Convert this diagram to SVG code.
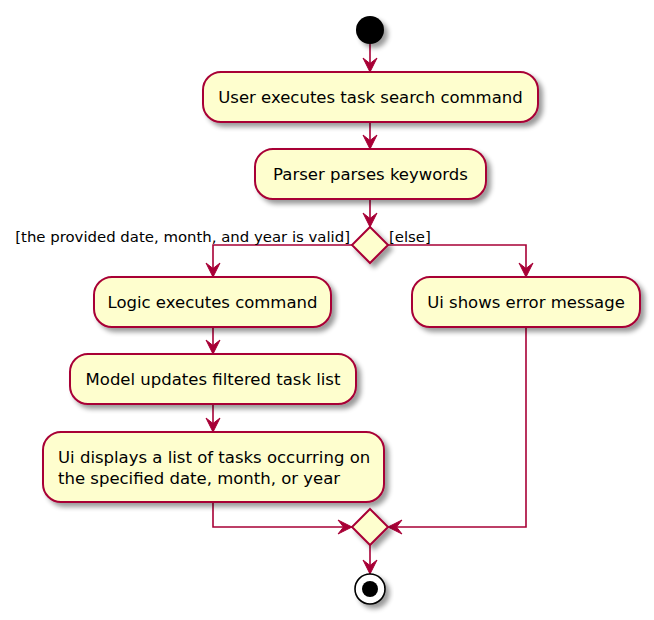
<svg xmlns="http://www.w3.org/2000/svg" width="654" height="620" viewBox="0 0 654 620">
<style>
.act{fill:#FEFECE;stroke:#A80036;stroke-width:2;filter:url(#sh)}
.t{font-family:"DejaVu Sans",sans-serif;font-size:16.5px;fill:#000}
.lbl{font-family:"DejaVu Sans",sans-serif;font-size:14.9px;fill:#000}
.c{fill:none;stroke:#A80036;stroke-width:1.6}
</style>
<defs>
<filter id="sh" x="-20%" y="-20%" width="150%" height="160%">
<feGaussianBlur in="SourceAlpha" stdDeviation="2.5"/>
<feOffset dx="4" dy="4" result="b"/>
<feComponentTransfer><feFuncA type="linear" slope="0.4"/></feComponentTransfer>
<feMerge><feMergeNode/><feMergeNode in="SourceGraphic"/></feMerge>
</filter>
<marker id="ah" viewBox="-16 -9 18 18" refX="0" refY="0" markerWidth="18" markerHeight="18" markerUnits="userSpaceOnUse" orient="auto">
<path d="M0,0 L-14,-7 L-8.5,0 L-14,7 Z" fill="#A80036" stroke="#A80036" stroke-width="1"/>
</marker>
</defs>
<g id="connectors">
<path class="c" d="M370,44 V72" marker-end="url(#ah)"/>
<path class="c" d="M370,122 V149" marker-end="url(#ah)"/>
<path class="c" d="M370,199 V227" marker-end="url(#ah)"/>
<path class="c" d="M352,245 H213 V277" marker-end="url(#ah)"/>
<path class="c" d="M388,245 H526 V277" marker-end="url(#ah)"/>
<path class="c" d="M213,327 V354" marker-end="url(#ah)"/>
<path class="c" d="M213,404 V432" marker-end="url(#ah)"/>
<path class="c" d="M213,502 V527 H352" marker-end="url(#ah)"/>
<path class="c" d="M526,327 V527 H388" marker-end="url(#ah)"/>
<path class="c" d="M370,545 V574" marker-end="url(#ah)"/>
<text class="lbl" x="350" y="242" text-anchor="end">[the provided date, month, and year is valid]</text>
<text class="lbl" x="389" y="242">[else]</text>
</g>
<g id="start"><circle cx="370" cy="30" r="14" fill="#000" filter="url(#sh)"/></g>
<g id="a1"><rect class="act" x="203" y="72" width="335" height="50" rx="18"/><text class="t" x="370.5" y="103" text-anchor="middle">User executes task search command</text></g>
<g id="a2"><rect class="act" x="255" y="149" width="231" height="50" rx="18"/><text class="t" x="370.5" y="180" text-anchor="middle">Parser parses keywords</text></g>
<g id="d1"><polygon class="act" points="370,227 388,245 370,263 352,245"/></g>
<g id="a3"><rect class="act" x="94" y="277" width="237" height="50" rx="18"/><text class="t" x="212.5" y="308" text-anchor="middle">Logic executes command</text></g>
<g id="a4"><rect class="act" x="412" y="277" width="228" height="50" rx="18"/><text class="t" x="526" y="308" text-anchor="middle">Ui shows error message</text></g>
<g id="a5"><rect class="act" x="70" y="354" width="286" height="50" rx="18"/><text class="t" x="213" y="385" text-anchor="middle">Model updates filtered task list</text></g>
<g id="a6"><rect class="act" x="43" y="432" width="341" height="70" rx="18"/><text class="t" x="58" y="463">Ui displays a list of tasks occurring on</text><text class="t" x="58" y="484">the specified date, month, or year</text></g>
<g id="d2"><polygon class="act" points="370,509 388,527 370,545 352,527"/></g>
<g id="end"><circle cx="370" cy="589" r="15" fill="#fff" stroke="#000" stroke-width="1.6" filter="url(#sh)"/><circle cx="370" cy="589" r="8" fill="#000"/></g>
</svg>
